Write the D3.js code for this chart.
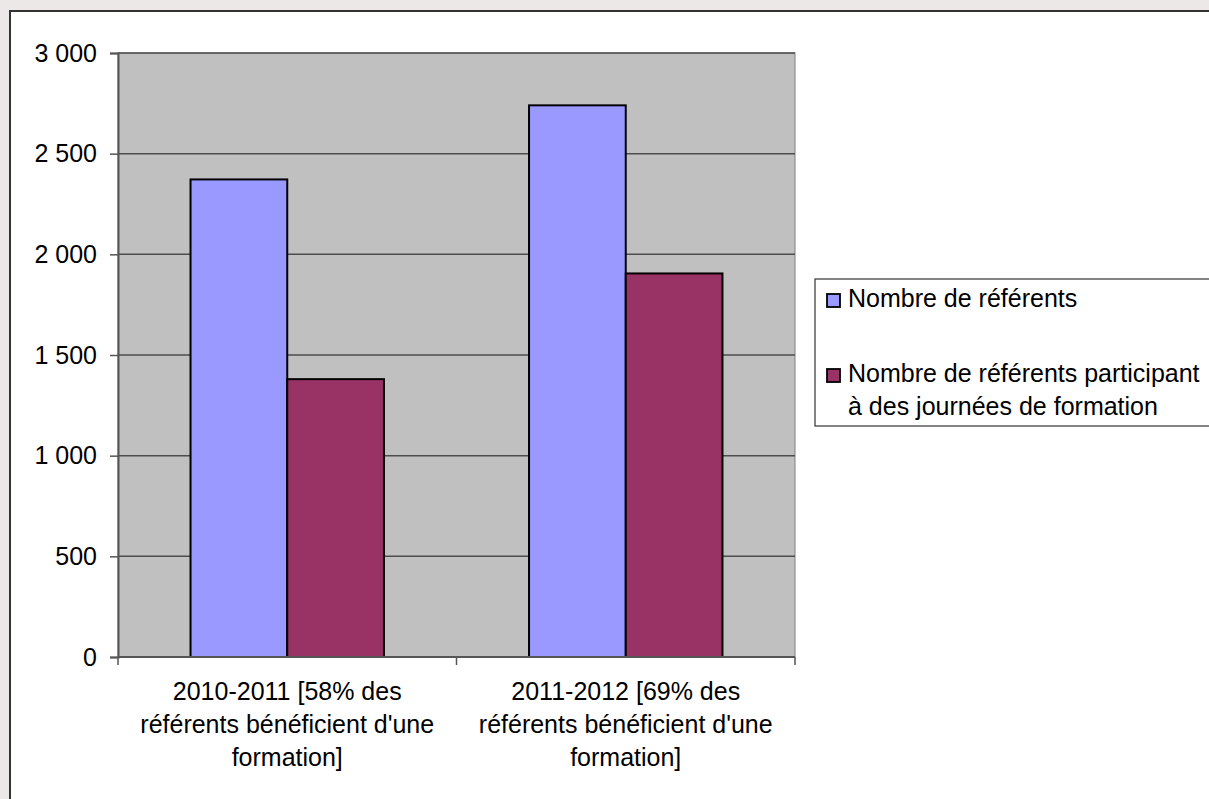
<!DOCTYPE html>
<html>
<head>
<meta charset="utf-8">
<script src="https://cdn.jsdelivr.net/npm/d3@7"></script>
<style>
  body { margin: 0; background: #ece8e8; }
  svg { display: block; font-family: "Liberation Sans", Arial, sans-serif; }
</style>
</head>
<body>
<div id="chart"></div>
<script>
// Data
const categories = ["2010-2011", "2011-2012"];
const categoryLabels = [
    ["2010-2011 [58% des", "référents bénéficient d'une", "formation]"],
    ["2011-2012 [69% des", "référents bénéficient d'une", "formation]"]
];
const seriesNames = [
    ["Nombre de référents"],
    ["Nombre de référents participant", "à des journées de formation"]
];
const referents = [2372, 2740];
const participants = [1380, 1905];
const yTicks = [0, 500, 1000, 1500, 2000, 2500, 3000];

const colors = ["#9999ff", "#993366"];
const series = [referents, participants];

const W = 1209, H = 799;
const plot = { left: 118, right: 795, top: 53, bottom: 657 };
const fontSize = 25;

const svg = d3.select("#chart").append("svg")
    .attr("width", W)
    .attr("height", H);

// page background + chart frame
svg.append("rect")
    .attr("width", W).attr("height", H)
    .attr("fill", "#ece8e8");
svg.append("rect")
    .attr("x", 10).attr("y", 11)
    .attr("width", W + 20).attr("height", H + 20)
    .attr("fill", "white")
    .attr("stroke", "#333")
    .attr("stroke-width", 2);

// scales
const x0 = d3.scaleBand()
    .domain(categories)
    .range([plot.left, plot.right]);
const x1 = d3.scaleBand()
    .domain([0, 1])
    .range([0, x0.bandwidth()])
    .paddingOuter(0.75)
    .paddingInner(0);
const y = d3.scaleLinear()
    .domain([0, 3000])
    .range([plot.bottom, plot.top]);

const fmt = d3.formatLocale({ decimal: ",", thousands: " ", grouping: [3], currency: ["", " €"] }).format(",d");

// plot area
svg.append("rect")
    .attr("x", plot.left).attr("y", plot.top)
    .attr("width", plot.right - plot.left)
    .attr("height", plot.bottom - plot.top)
    .attr("fill", "#c0c0c0")
    .attr("stroke", "#808080")
    .attr("stroke-width", 1);

// gridlines
svg.append("g")
    .selectAll("line")
    .data(yTicks.filter(d => d > 0))
    .join("line")
    .attr("x1", plot.left).attr("x2", plot.right)
    .attr("y1", d => y(d)).attr("y2", d => y(d))
    .attr("stroke", "#4d4d4d")
    .attr("stroke-width", 1.5);

// bars
const groups = svg.append("g")
    .selectAll("g")
    .data(categories)
    .join("g")
    .attr("transform", d => `translate(${x0(d)},0)`);

groups.selectAll("rect")
    .data((d, i) => series.map((s, k) => ({ k: k, v: s[i] })))
    .join("rect")
    .attr("x", d => x1(d.k))
    .attr("y", d => y(d.v))
    .attr("width", x1.bandwidth())
    .attr("height", d => y(0) - y(d.v))
    .attr("fill", d => colors[d.k])
    .attr("stroke", "black")
    .attr("stroke-width", 2);

// Y axis
const yAxis = svg.append("g")
    .attr("transform", `translate(${plot.left},0)`)
    .call(d3.axisLeft(y).tickValues(yTicks).tickFormat(fmt).tickSize(8).tickPadding(13));
yAxis.select(".domain").attr("stroke", "#555").attr("stroke-width", 2);
yAxis.selectAll(".tick line").attr("stroke", "#555").attr("stroke-width", 1.5);
yAxis.selectAll("text")
    .attr("font-size", fontSize)
    .attr("fill", "black")
    .attr("font-family", "Liberation Sans, Arial, sans-serif");

// X axis
svg.append("line")
    .attr("x1", plot.left).attr("x2", plot.right)
    .attr("y1", plot.bottom).attr("y2", plot.bottom)
    .attr("stroke", "#555").attr("stroke-width", 2);
const boundaries = categories.map(c => x0(c)).concat([x0(categories[categories.length - 1]) + x0.bandwidth()]);
svg.append("g")
    .selectAll("line")
    .data(boundaries)
    .join("line")
    .attr("x1", d => d).attr("x2", d => d)
    .attr("y1", plot.bottom).attr("y2", plot.bottom + 8)
    .attr("stroke", "#555").attr("stroke-width", 1.5);

svg.append("g")
    .selectAll("text")
    .data(categories)
    .join("text")
    .attr("x", d => x0(d) + x0.bandwidth() / 2)
    .attr("y", 700)
    .attr("text-anchor", "middle")
    .attr("font-size", fontSize)
    .selectAll("tspan")
    .data((d, i) => categoryLabels[i])
    .join("tspan")
    .attr("x", function () { return this.parentNode.getAttribute("x"); })
    .attr("dy", (d, i) => i === 0 ? 0 : 33)
    .text(d => d);

// Legend
svg.append("rect")
    .attr("x", 815).attr("y", 279)
    .attr("width", 420).attr("height", 147)
    .attr("fill", "white")
    .attr("stroke", "#333")
    .attr("stroke-width", 1.2);

const legendBase = [307, 382];
const legend = svg.append("g")
    .selectAll("g")
    .data(seriesNames)
    .join("g")
    .attr("transform", (d, i) => `translate(0,${legendBase[i]})`);
legend.append("rect")
    .attr("x", 827).attr("y", -13)
    .attr("width", 13).attr("height", 13)
    .attr("fill", (d, i) => colors[i])
    .attr("stroke", "black")
    .attr("stroke-width", 1.8);
legend.append("text")
    .attr("font-size", fontSize)
    .selectAll("tspan")
    .data(d => d)
    .join("tspan")
    .attr("x", 848)
    .attr("dy", (d, i) => i === 0 ? 0 : 33)
    .text(d => d);
</script>
</body>
</html>
